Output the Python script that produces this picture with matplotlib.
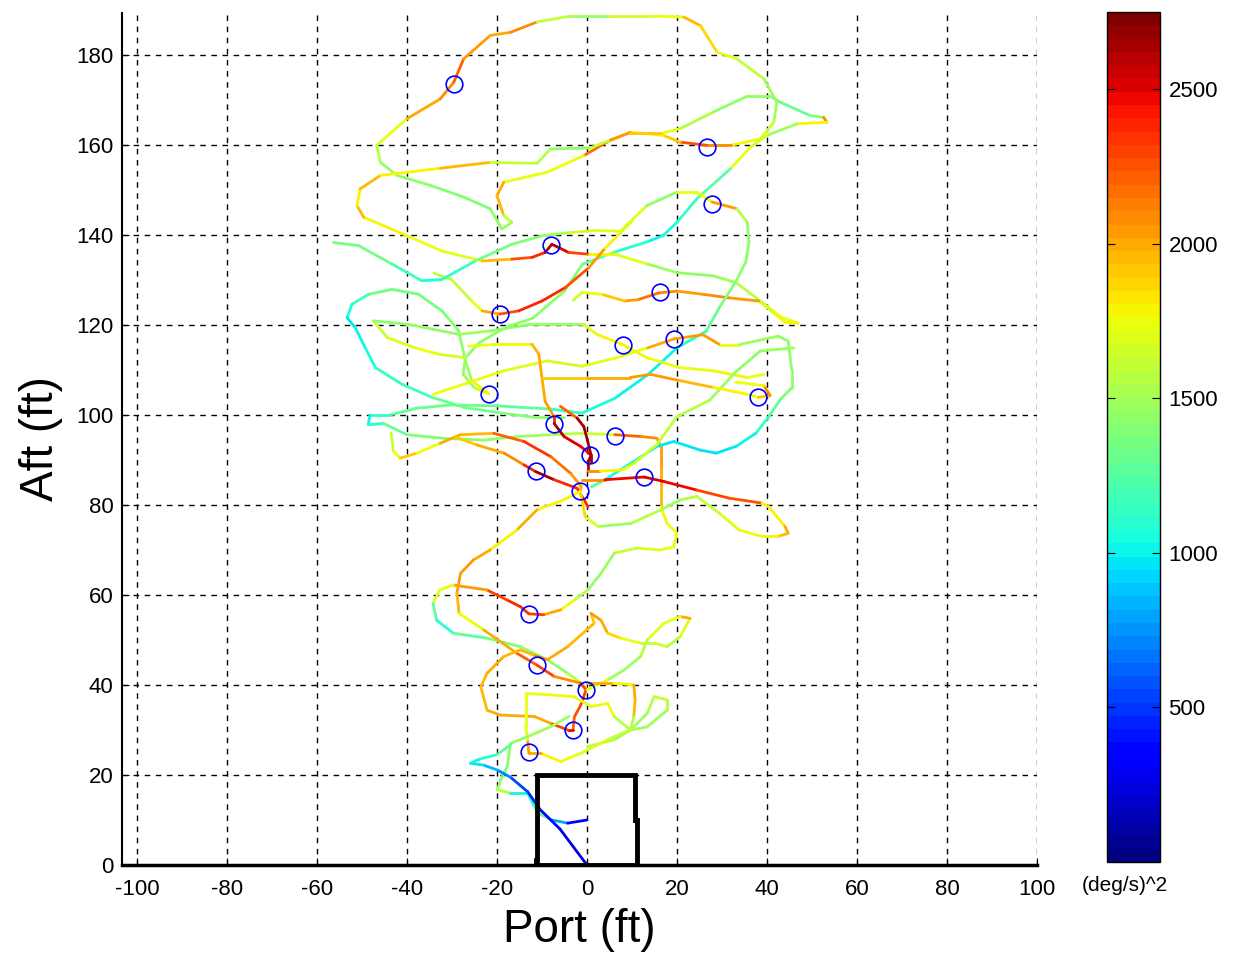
import numpy as np
import matplotlib
matplotlib.use("Agg")
import matplotlib.pyplot as plt
from matplotlib.collections import LineCollection

plt.rcParams['font.family'] = ['Liberation Sans', 'DejaVu Sans']
plt.rcParams['axes.unicode_minus'] = False

# flight track pieces: (port ft, aft ft, (deg/s)^2)
top_loop = [(-46.7, 159.9, 1750), (-40, 165.8, 2000), (-32.6, 170.2, 2100), (-29.6, 173.9, 2200),
            (-27.4, 179.1, 2050), (-21.5, 184.3, 2000), (-17, 185, 2100), (-11.1, 187.3, 1600),
            (-3.7, 188.6, 1500), (5, 188.6, 1650), (15, 188.6, 1750), (21.5, 188.4, 1950),
            (25.2, 186.5, 1850), (28.9, 180.6, 1700), (33.3, 179.1, 1600), (39.3, 174.7, 1500),
            (42.2, 169.5, 1500), (41.5, 165, 1650), (38.5, 161.3, 1800), (31.9, 159.9, 2100),
            (26.7, 159.9, 2250), (20.7, 160.6, 1900), (17, 162.1, 1800), (9.6, 162.8, 1950),
            (4.4, 160.6, 2150), (-0.7, 157.6, 1750), (-8.9, 153.9, 1750), (-18.5, 151.7, 2000),
            (-20, 148.7, 1950), (-18.5, 144.3, 1600), (-16.7, 142.8, 1500), (-18.9, 141.3, 1450),
            (-21.5, 145.8, 1400), (-27.4, 148.4, 1400), (-34.8, 151, 1450), (-42.2, 153.2, 1450),
            (-45.9, 156.1, 1550), (-46.7, 159.9, 1700)]

upper_sweep = [(-44.4, 141.7, 1800), (-49.6, 143.9, 1950), (-51.1, 146.5, 1800), (-50.4, 150.2, 1950),
               (-45.9, 153.2, 1800), (-40, 153.9, 1800), (-32.6, 154.8, 1950), (-21.5, 156.1, 1600),
               (-11.1, 155.9, 1550), (-8.1, 159.1, 1450), (0.7, 159.3, 1600), (5.2, 161.1, 2050),
               (9.6, 162.7, 1900), (17, 162.7, 1750), (20.7, 163.6, 1550), (28.1, 167.3, 1450),
               (35.6, 170.8, 1450), (40.7, 170.8, 1450), (42.9, 169.5, 1300), (49.6, 166.5, 1400),
               (52.6, 166.1, 2100), (53.3, 165, 1800), (46.7, 164.7, 1500), (40, 162.1, 1650),
               (36.3, 159.5, 1750), (31.9, 154.7, 1250), (24.4, 148, 1150), (20, 142.8, 1050),
               (17, 139.9, 1000), (13.5, 138.5, 1100), (6.2, 136.2, 1300), (-1, 133.5, 1400),
               (-5, 127.5, 1450), (-12, 121.5, 1450), (-18, 119.5, 1450), (-24, 116, 1450),
               (-27, 112.7, 1450), (-27.5, 109, 1500), (-25, 106, 1600), (-21.8, 104.7, 1800)]

red_140 = [(-44.4, 141.7, 1800), (-40, 139.8, 1750), (-32.2, 136.4, 1700), (-23.3, 134.2, 1950),
           (-16.7, 134.6, 2250), (-12.2, 135, 2400), (-9.3, 136.1, 2600), (-7.8, 137.9, 2650),
           (-6.3, 137.2, 2500), (-4.1, 136.1, 2300), (0.4, 135.7, 1800), (6.2, 135.7, 1700),
           (13.5, 133.5, 1500), (20, 131.6, 1450), (28, 130.9, 1500), (33.1, 129.4, 1550),
           (39.6, 124.5, 1700), (43.3, 121.6, 1750), (46.9, 120.4, 1800), (44, 120.6, 1800),
           (41.1, 123, 1650), (38.2, 125.3, 2050), (31.6, 126, 2100), (25.8, 126.8, 2050),
           (20, 127.5, 2100), (16, 127.1, 2150), (11.3, 125.6, 2050), (8.4, 125.3, 1900),
           (3.3, 126.8, 1750), (-1.1, 127.2, 1650), (-3, 125.5, 1550)]

red_122 = [(-34, 131.5, 1550), (-30, 130, 1600), (-25.6, 125.3, 1750), (-23.3, 123.1, 2000),
           (-19.4, 122.4, 2250), (-15.2, 123.1, 2400), (-10, 125.3, 2400), (-4.8, 128.3, 2250),
           (0.4, 132.7, 2050), (4, 137, 1800), (8, 141, 1700), (10, 143, 1650)]

long_a = [(-56.3, 138.3, 1350), (-50.7, 137.6, 1350), (-43.3, 133.5, 1200), (-36.7, 129.8, 1050),
          (-32.2, 130.1, 1150), (-24.8, 134.2, 1350), (-16.7, 137.9, 1400), (-10, 139.8, 1500),
          (-4, 140.5, 1650), (2, 141, 1700), (7.4, 140.8, 1700), (13.3, 146.5, 1450),
          (20, 149.5, 1750), (24.4, 149.5, 1750), (27.8, 147.3, 2050), (33.3, 145.8, 1550),
          (35.6, 142.8, 1450), (36, 138.4, 1450), (35.3, 134, 1450), (33, 129.5, 1400),
          (29.5, 124, 1300), (26.5, 118.6, 1100), (20, 114.9, 1000), (13.5, 108.9, 1000),
          (6.2, 103.7, 1050), (-1.1, 100.4, 1150)]

long_b = [(-1.1, 100.4, 1150), (-8, 101.3, 1250), (-20, 102, 1300), (-30.3, 102.2, 1300),
          (-37.8, 101.5, 1250), (-43.7, 100, 1150), (-48.2, 100, 1000), (-48.6, 97.8, 1100),
          (-45.2, 98.1, 1300), (-40, 95.6, 1400), (-31.8, 94.8, 1450), (-22.9, 94.4, 1450),
          (-15.5, 95.2, 1500), (-8, 95.6, 1550), (-1.1, 95.9, 1650), (6.2, 95.6, 2200),
          (12, 95.2, 2100), (15.6, 94.8, 2050), (16.4, 93, 2050), (16.4, 88.5, 2000),
          (16.4, 84.1, 1950), (16.4, 79.6, 1800), (17.8, 75.9, 1750), (20, 73.7, 1750),
          (19.3, 70.7, 1750), (16.3, 70, 1700), (11.1, 70.4, 1600), (6.1, 69.3, 1500),
          (3.1, 64.8, 1450), (0.2, 61.1, 1550)]

long_c = [(0.2, 61.1, 1550), (-2.8, 58.9, 1750), (-5.8, 56.7, 2000), (-9.6, 55.6, 2300),
          (-12.9, 55.8, 2350), (-14.8, 57.4, 2400), (-17.8, 58.9, 2300), (-22.2, 61.1, 2050),
          (-29.7, 62.2, 1750), (-32.7, 61.1, 1700), (-34.2, 58.1, 1250), (-33.4, 54.4, 1100),
          (-29.7, 51.5, 1250), (-22.2, 50.4, 1400), (-14.8, 48.5, 1450), (-8.8, 45.6, 1450),
          (-4.3, 42.6, 1550), (-1.3, 40.4, 1750), (0, 38.9, 1750)]

cyan_west = [(-21.8, 104.7, 1800), (-25.6, 107.6, 1500), (-27, 112, 1450), (-28.5, 118.7, 1400),
             (-32.2, 123.1, 1350), (-37.4, 126.8, 1350), (-43.3, 127.9, 1350), (-48.5, 126.8, 1200),
             (-52.2, 124.6, 1050), (-53.3, 121.6, 950), (-51.5, 119.4, 1000), (-49.3, 115, 1050),
             (-47, 110.5, 1150), (-41.1, 106.8, 1200), (-34.4, 103.9, 1300), (-27, 101.6, 1350),
             (-19.6, 100.5, 1400), (-12, 99.5, 1450), (-5, 99.5, 1500)]

yellow_120 = [(-27, 112.7, 1650), (-33, 113.5, 1750), (-38.5, 115, 1700), (-44.4, 117.2, 1600),
              (-47.4, 120.9, 1450), (-39.6, 120.1, 1450), (-28.5, 117.9, 1500), (-21.1, 118.7, 1450),
              (-12.6, 120.1, 1450), (-0.7, 120.1, 1700), (2.2, 117.9, 1800), (8, 115.6, 1800),
              (13.3, 112.7, 1750), (20.7, 110.5, 1750), (28.1, 109.8, 1800), (35.6, 108.3, 1750),
              (39.3, 109, 1650)]

orange_117 = [(-34.1, 104.6, 1750), (-27.4, 106.8, 1750), (-18.5, 109.8, 1700), (-8.9, 112, 1650),
              (-1.1, 110.8, 1700), (6.2, 112.6, 1750), (13.5, 114.9, 2000), (19.4, 116.9, 2050),
              (25.8, 117.8, 2050), (29.5, 115.6, 1750), (33.8, 115.6, 1500), (42.5, 117.5, 1450),
              (44.7, 116.4, 1450), (45.5, 110, 1450), (45.5, 106, 1400), (43, 103.5, 1250),
              (40.4, 99.6, 1150), (37.5, 95.9, 1000), (33.1, 93, 950), (28.7, 91.5, 950),
              (25.1, 92.2, 950), (19.3, 94.1, 950), (15.6, 93, 1000), (9.8, 89.3, 1050),
              (4, 85.6, 1250), (1, 84, 1500)]

dark_red_98 = [(-26.3, 115.3, 1750), (-19.6, 115.7, 1800), (-12.2, 115.7, 1950), (-10.7, 113.5, 2000),
               (-10, 108.3, 2000), (-9.3, 103, 2050), (-7.3, 99.6, 2400), (-7.3, 98.1, 2650),
               (-5.1, 95.2, 2500), (-1.4, 93, 2450), (0.9, 91.1, 2650), (0.2, 89.3, 2600),
               (0.2, 87.5, 2100), (3, 87.5, 1800), (8, 87.8, 1750), (10.5, 89.3, 1650),
               (15.6, 93.5, 1600), (20, 99.6, 1550), (27.3, 103.3, 1500), (33, 109.5, 1450),
               (38.5, 114.2, 1500), (46, 114.9, 1750)]

dark_red_101 = [(-5.9, 101.9, 2200), (-2.2, 99.3, 2650), (-0.7, 97.4, 2650), (0.1, 94.4, 2650),
                (0.9, 91.1, 2650), (0.9, 89.5, 2450)]

orange_108 = [(-10, 108.3, 1900), (0, 108.3, 2000), (9.6, 108.3, 2050), (14.1, 109, 2050),
              (20.7, 107.6, 1950), (28.1, 106.1, 1800), (35.6, 104.6, 1750), (38.1, 103.9, 1900),
              (40.7, 104.3, 2100), (39.3, 106.5, 1750), (33, 107.3, 1700)]

red_95 = [(-43.5, 96, 1600), (-43, 91.9, 1750), (-41.5, 90.4, 1900), (-37.8, 91.5, 1750),
          (-32.6, 93.7, 2000), (-28.1, 95.6, 1950), (-20.7, 95.9, 2200), (-14, 94.1, 2350),
          (-8, 90.7, 2150), (-3.6, 87, 2050), (-1.3, 84.1, 2000), (-1.5, 83, 2050)]

red_88 = [(-29, 95, 1900), (-24.4, 93.3, 2000), (-18.4, 91.5, 2100), (-14, 88.9, 2400),
          (-11.4, 87.4, 2650), (-7.3, 85.6, 2400), (-2.2, 83.7, 2350), (-0.6, 81.1, 2400),
          (0.2, 79.6, 2350)]

red_86 = [(-1.1, 85.6, 2100), (4, 85.6, 2450), (12.7, 86.2, 2500), (17.1, 85.2, 2450),
          (24.4, 83.3, 2300), (31.6, 81.5, 2250), (38.9, 80.4, 1800), (40.4, 79.6, 1800),
          (44, 75.2, 2000), (44.7, 73.7, 1950), (42.5, 73, 1800), (38.9, 73, 1750),
          (33.8, 74.4, 1700), (29.5, 78.1, 1600), (24.4, 81.9, 1550), (20.7, 81.1, 1500),
          (16.4, 78.9, 1550), (9.8, 75.9, 1500), (2.5, 75.2, 1700), (-0.4, 77.4, 1850),
          (-1.5, 83, 1900)]

descent = [(-1.5, 83, 1800), (-5.2, 81.1, 1800), (-11.1, 78.9, 2000), (-15.6, 74.4, 1800),
           (-21.5, 70, 2000), (-25.2, 67.8, 2050), (-28.1, 64.8, 2050), (-28.9, 60.4, 1950),
           (-28.4, 55.9, 1750), (-22.9, 52.2, 2000), (-15.5, 47, 2200), (-11.1, 44.4, 2300),
           (-7.3, 41.9, 2100), (-1.4, 40.4, 2300), (-0.2, 38.9, 2300), (-1.4, 35.5, 2250),
           (-2.8, 32.9, 2200), (-3.1, 30, 2450), (-4.3, 30, 2300), (-8.1, 31.5, 2000),
           (-11.7, 33, 2000), (-19.2, 33.3, 2000), (-22.2, 34.4, 1950), (-23.6, 39.6, 1950),
           (-22.2, 42.6, 2000), (-18.5, 46.3, 1950), (-14.8, 47.8, 1950), (-11.5, 46.5, 2100),
           (-8.8, 45.6, 2000), (-4.3, 48.5, 1950), (1.6, 53.7, 1900), (0.9, 55.9, 2050),
           (3.1, 54.4, 2000), (4.6, 51.5, 1850), (7.5, 50.4, 1750), (11.9, 49.3, 1600),
           (14.9, 49.3, 1650), (17.8, 48.5, 1550), (20.7, 50.7, 1700), (22.9, 54.8, 2000),
           (20.7, 55.2, 1750), (17.1, 53.7, 1700), (13.4, 50, 1550), (11.9, 46.3, 1500),
           (8.2, 43.3, 1500), (4.6, 41.1, 1700), (0, 38.9, 1750)]

low_loop = [(0.1, 40.4, 2000), (6, 40.4, 1800), (10.4, 40, 2000), (10.7, 36.7, 1950),
            (10.4, 33, 1550), (9.7, 30, 1500), (13.4, 30.7, 1500), (17.8, 34.4, 1550),
            (17.8, 36.7, 1600), (14.9, 37.4, 1550), (13.4, 33.7, 1500), (9.7, 30, 1500),
            (6, 27.8, 1550), (0.1, 26.3, 1700)]

low_yellow = [(10.4, 30.4, 1600), (4.5, 27.8, 1700), (-1.4, 24.8, 1750), (-5.8, 23, 1800),
              (-10.3, 24.8, 2000), (-12.9, 24.8, 2050), (-13.2, 27.8, 1700), (-13.6, 30.7, 1750),
              (-13.6, 38.1, 1750), (-8.1, 37.8, 1750), (-2.9, 37.4, 1700), (0.9, 35.2, 1750),
              (4.6, 35.9, 1750), (6, 33, 1550), (9.7, 30, 1500)]

low_green = [(-4, 33, 1500), (-8.1, 30.7, 1500), (-13.2, 28.5, 1450), (-17, 27, 1450),
             (-17.7, 21.9, 1400), (-19.2, 18.9, 1450), (-19.9, 16.7, 1550), (-17, 16, 1000),
             (-13.2, 16, 1050), (-10.9, 11.5, 1350), (-7.8, 10, 800), (-4.3, 9.3, 350),
             (0, 10, 300)]

takeoff = [(0, 0, 250), (-6, 8, 350), (-10.3, 12.2, 450), (-13.2, 16.3, 550), (-17, 19.5, 700),
           (-19.9, 21.1, 850), (-23, 22.2, 950), (-25.9, 22.6, 1000), (-24, 23.5, 1100),
           (-20, 24.5, 1250), (-17, 26.7, 1400)]

tracks = [top_loop, upper_sweep, red_140, red_122, long_a, long_b, long_c, cyan_west,
          yellow_120, orange_117, dark_red_98, dark_red_101, orange_108, red_95, red_88,
          red_86, descent, low_loop, low_yellow, low_green, takeoff]

# marked points (blue circles)
mark_x = [-29.6, 26.7, 27.8, -8.0, 16.3, -19.4, 8.0, 19.4, -21.8, 38.1, -7.3,
          6.2, 0.7, -11.4, 12.7, -1.6, -12.9, -11.1, -0.2, -3.1, -12.9]
mark_y = [173.6, 159.6, 146.9, 137.8, 127.3, 122.4, 115.6, 116.9, 104.7, 104.0, 98.0,
          95.3, 91.1, 87.6, 86.2, 83.1, 55.8, 44.4, 38.9, 30.0, 25.1]

# deck outline
deck_x = [-11.4, -11.4, -11.0, -11.0, 10.6, 10.6, 11.2, 11.2, -11.4]
deck_y = [0, 1, 1, 20, 20, 10, 10, 0, 0]

fig = plt.figure(figsize=(12.39, 9.61), dpi=100)
ax = fig.add_axes([0.0985, 0.0999, 0.7385, 0.8866])

cmap = plt.get_cmap('jet', 64)
norm = plt.Normalize(0, 2750)

for tr in tracks:
    pts = np.array(tr, dtype=float)
    segs = np.stack([pts[:-1, :2], pts[1:, :2]], axis=1)
    lc = LineCollection(segs, cmap=cmap, norm=norm, linewidths=2.0, capstyle='round')
    lc.set_array(pts[:-1, 2])
    ax.add_collection(lc)

ax.plot(deck_x, deck_y, color='k', lw=3.5, solid_joinstyle='miter')
ax.plot(mark_x, mark_y, 'o', mfc='none', mec='b', ms=12, mew=1.2)

ax.set_xlim(-103.3, 100)
ax.set_ylim(0, 189.3)
ax.set_xticks(np.arange(-100, 101, 20))
ax.set_yticks(np.arange(0, 181, 20))
ax.grid(True, color='k', linestyle=(0, (4, 4)), linewidth=1)
ax.set_axisbelow(True)
for s in ['top', 'right']:
    ax.spines[s].set_visible(False)
ax.spines['left'].set_linewidth(1.5)
ax.spines['bottom'].set_linewidth(2.5)
ax.tick_params(direction='in', length=5, labelsize=16)
ax.tick_params(axis='x', pad=10)
ax.tick_params(axis='y', pad=6)
ax.set_xlabel('Port (ft)', fontsize=33, labelpad=6)
ax.set_ylabel('Aft (ft)', fontsize=33, labelpad=10)

cax = fig.add_axes([0.8935, 0.103, 0.0428, 0.8845])
sm = plt.cm.ScalarMappable(cmap=cmap, norm=norm)
cb = fig.colorbar(sm, cax=cax, ticks=[500, 1000, 1500, 2000, 2500])
cb.outline.set_linewidth(1)
cax.tick_params(direction='in', left=True, right=True, length=6, labelsize=16, pad=6)
fig.text(0.908, 0.079, '(deg/s)^2', fontsize=15, ha='center', va='center')

fig.savefig('out.png', dpi=100)
